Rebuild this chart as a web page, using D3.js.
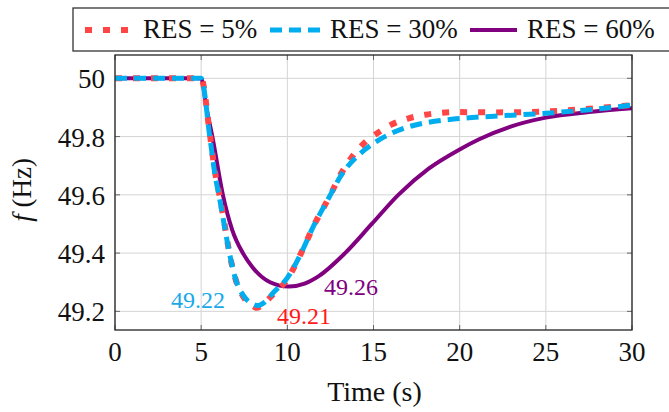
<!DOCTYPE html>
<html>
<head>
<meta charset="utf-8">
<script src="https://d3js.org/d3.v7.min.js"></script>
<style>
body { margin: 0; background: white; }
svg { font-family: 'Liberation Serif', serif; }
</style>
</head>
<body>
<svg width="669" height="412"></svg>
<script>
// frequency response
const t5 = [0, 5, 5.5, 5.8, 6.06, 6.3, 6.64, 7.0, 7.5, 8.0, 8.2, 8.6, 9.2, 10, 10.8, 11.5, 12.5, 13, 14.5, 15.3, 16, 17, 18, 20, 22, 25, 28, 30];
const f5 = [50, 50, 49.81, 49.68, 49.6, 49.52, 49.4, 49.31, 49.245, 49.218, 49.212, 49.225, 49.26, 49.31, 49.40, 49.49, 49.6, 49.66, 49.78, 49.815, 49.84, 49.862, 49.875, 49.884, 49.883, 49.886, 49.898, 49.908];

const t30 = [0, 5, 5.5, 5.8, 6.06, 6.3, 6.64, 7.0, 7.5, 8.0, 8.3, 8.7, 9.2, 10, 10.8, 11.5, 12.5, 13, 14.5, 15.3, 16, 17, 18, 20, 22, 25, 28, 30];
const f30 = [50, 50, 49.80, 49.67, 49.59, 49.51, 49.40, 49.31, 49.25, 49.225, 49.22, 49.232, 49.265, 49.315, 49.40, 49.49, 49.6, 49.655, 49.755, 49.788, 49.81, 49.833, 49.847, 49.862, 49.87, 49.88, 49.895, 49.908];

const t60 = [0, 5, 5.3, 5.65, 6.26, 6.8, 7.42, 8, 9, 10.1, 11, 11.8, 13.35, 14.9, 16.44, 18.2, 20, 21.1, 23, 25, 27.5, 30];
const f60 = [50, 50, 49.9, 49.8, 49.6, 49.48, 49.4, 49.35, 49.30, 49.285, 49.295, 49.32, 49.40, 49.50, 49.60, 49.69, 49.756, 49.79, 49.835, 49.865, 49.884, 49.897];

const names = ["RES = 5%", "RES = 30%", "RES = 60%"];
const colors = ["#ff4545", "#00aeef", "#800080"];
const xTicks = [0, 5, 10, 15, 20, 25, 30];
const yTicks = [49.2, 49.4, 49.6, 49.8, 50];
const minLabels = ["49.21", "49.22", "49.26"];

const svg = d3.select("svg");
const L = 115, R = 632, T = 55, B = 330;

const x = d3.scaleLinear().domain([0, 30]).range([L, R]);
const y = d3.scaleLinear().domain([49.136, 50.08]).range([B, T]);

// grid
svg.append("g").selectAll("line").data(xTicks).join("line")
  .attr("x1", d => x(d)).attr("x2", d => x(d)).attr("y1", T).attr("y2", B)
  .attr("stroke", "#d4d4d4").attr("stroke-width", 1);
svg.append("g").selectAll("line").data(yTicks).join("line")
  .attr("x1", L).attr("x2", R).attr("y1", d => y(d)).attr("y2", d => y(d))
  .attr("stroke", "#d4d4d4").attr("stroke-width", 1);

// inner ticks on all sides
const tk = 5;
svg.append("g").selectAll("line").data(yTicks).join("line")
  .attr("x1", L).attr("x2", L + tk).attr("y1", d => y(d)).attr("y2", d => y(d))
  .attr("stroke", "#666");
svg.append("g").selectAll("line").data(yTicks).join("line")
  .attr("x1", R - tk).attr("x2", R).attr("y1", d => y(d)).attr("y2", d => y(d))
  .attr("stroke", "#666");
svg.append("g").selectAll("line").data(xTicks).join("line")
  .attr("x1", d => x(d)).attr("x2", d => x(d)).attr("y1", B).attr("y2", B - tk)
  .attr("stroke", "#666");
svg.append("g").selectAll("line").data(xTicks).join("line")
  .attr("x1", d => x(d)).attr("x2", d => x(d)).attr("y1", T).attr("y2", T + tk)
  .attr("stroke", "#666");

svg.append("clipPath").attr("id", "clip")
  .append("rect").attr("x", L).attr("y", T).attr("width", R - L).attr("height", B - T);

const line = d3.line().x(d => x(d[0])).y(d => y(d[1])).curve(d3.curveMonotoneX);
const series = [d3.zip(t5, f5), d3.zip(t30, f30), d3.zip(t60, f60)];
const dashes = ["7,11", "12,7", null];
const widths = [6, 5, 4];

const g = svg.append("g").attr("clip-path", "url(#clip)");
[2, 0, 1].forEach(i => {
  g.append("path").datum(series[i])
    .attr("d", line)
    .attr("fill", "none")
    .attr("stroke", colors[i])
    .attr("stroke-width", widths[i])
    .attr("stroke-dasharray", dashes[i]);
});

// frame
svg.append("rect").attr("x", L).attr("y", T).attr("width", R - L).attr("height", B - T)
  .attr("fill", "none").attr("stroke", "#222").attr("stroke-width", 1.3);

// tick labels
svg.append("g").selectAll("text").data(xTicks).join("text")
  .attr("x", d => x(d)).attr("y", 361).attr("text-anchor", "middle")
  .attr("font-size", 27).attr("fill", "#111").text(d => d);
svg.append("g").selectAll("text").data(yTicks).join("text")
  .attr("x", 105).attr("y", d => y(d) + 10).attr("text-anchor", "end")
  .attr("font-size", 27).attr("fill", "#111").text(d => d3.format("~g")(d));

// axis titles
svg.append("text").attr("x", x(15) + 1).attr("y", 401).attr("text-anchor", "middle")
  .attr("font-size", 28).attr("fill", "#111").text("Time (s)");
const yl = svg.append("text").attr("transform", "translate(31,190) rotate(-90)")
  .attr("text-anchor", "middle").attr("font-size", 27).attr("fill", "#111");
yl.append("tspan").attr("font-style", "italic").text("f");
yl.append("tspan").text(" (Hz)");

// minimum annotations
const labelPos = [[304, 324], [198, 308], [351, 295]];
const labelCol = ["#ff1a1a", "#1aa9e8", "#800080"];
minLabels.forEach((s, i) => {
  svg.append("text").attr("x", labelPos[i][0]).attr("y", labelPos[i][1])
    .attr("text-anchor", "middle").attr("font-size", 24)
    .attr("fill", labelCol[i]).text(s);
});

// legend
svg.append("rect").attr("x", 73).attr("y", 8).attr("width", 600).attr("height", 43)
  .attr("fill", "white").attr("stroke", "#333").attr("stroke-width", 1.3);
const legX = [[85, 128, 143], [270, 320, 330], [470, 517, 527]];
names.forEach((n, i) => {
  svg.append("line").attr("x1", legX[i][0]).attr("x2", legX[i][1])
    .attr("y1", 30).attr("y2", 30)
    .attr("stroke", colors[i]).attr("stroke-width", widths[i])
    .attr("stroke-dasharray", dashes[i]);
  svg.append("text").attr("x", legX[i][2]).attr("y", 38)
    .attr("font-size", 27).attr("fill", "#111").text(n);
});
</script>
</body>
</html>
